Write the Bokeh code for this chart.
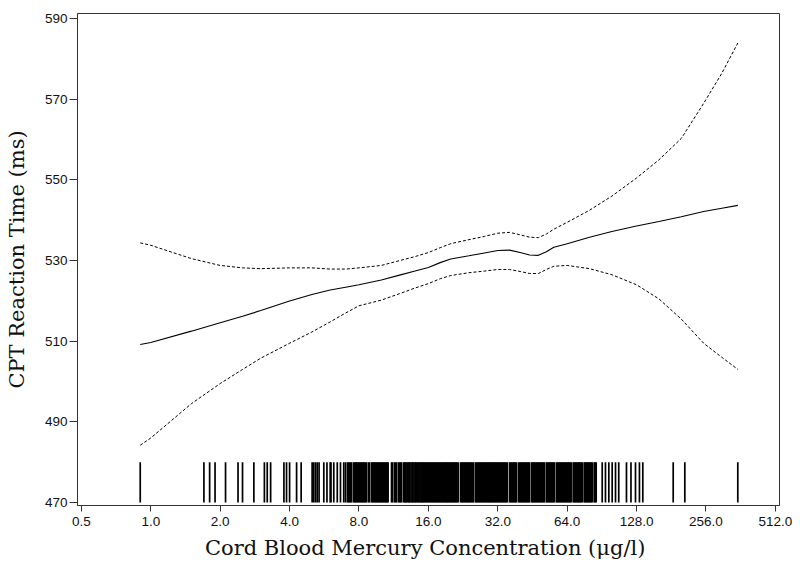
from bokeh.plotting import figure
from bokeh.models import Range1d, FixedTicker, CustomJSTickFormatter
from bokeh.embed import file_html
from bokeh.resources import INLINE

# ---- data ----
x_ticks = [0.5, 1, 2, 4, 8, 16, 32, 64, 128, 256, 512]
x_tick_labels = ["0.5", "1.0", "2.0", "4.0", "8.0", "16.0", "32.0", "64.0", "128.0", "256.0", "512.0"]
y_ticks = [470, 490, 510, 530, 550, 570, 590]

curve_x = [0.9, 1.0, 1.5, 2.0, 2.5, 3.0, 4.0, 5.0, 6.0, 7.0, 8.0, 10, 12, 14, 16, 18, 20, 24, 28,
           32, 36, 40, 44, 48, 52, 56, 64, 80, 100, 128, 160, 200, 250, 300, 352]
fit_y = [509.2, 509.7, 512.5, 514.6, 516.2, 517.6, 520.0, 521.6, 522.7, 523.4, 524.0, 525.2, 526.4,
         527.4, 528.3, 529.5, 530.4, 531.2, 531.9, 532.5, 532.6, 532.0, 531.4, 531.3, 532.2, 533.3,
         534.2, 535.8, 537.2, 538.6, 539.7, 540.9, 542.2, 543.0, 543.7]
upper_y = [534.4, 533.8, 530.5, 528.8, 528.2, 528.0, 528.2, 528.2, 527.9, 527.9, 528.2, 528.8, 530.0,
           531.0, 532.0, 533.2, 534.2, 535.2, 536.0, 536.8, 537.0, 536.4, 535.8, 535.7, 536.6, 537.8,
           539.5, 542.5, 546.0, 550.5, 555.0, 560.3, 569.0, 576.5, 584.0]
lower_y = [484.2, 486.0, 494.5, 499.5, 503.0, 505.8, 509.5, 512.3, 514.8, 517.0, 518.8, 520.2, 521.8,
           523.2, 524.3, 525.5, 526.3, 527.0, 527.4, 527.8, 527.8, 527.3, 526.8, 526.8, 527.8, 528.6,
           528.8, 528.0, 526.5, 524.0, 520.5, 515.5, 509.5, 506.0, 503.0]

rug_x = [
    0.90, 1.70, 1.80, 1.90, 2.11, 2.39, 2.50, 2.80, 3.11, 3.20, 3.31, 3.78, 3.88, 4.00, 4.29, 4.49,
    5.01, 5.09, 5.18, 5.27, 5.37, 5.63, 5.81, 6.00, 6.05, 6.22, 6.44, 6.65, 6.87, 6.99,
    7.13, 7.20, 7.27, 7.35, 7.42, 7.57, 7.65, 7.73, 7.80, 7.88, 7.96, 8.04, 8.12, 8.20, 8.28, 8.37,
    8.45, 8.53, 8.62, 8.79, 8.88, 9.06, 9.15, 9.24, 9.33, 9.43, 9.52, 9.62, 9.71, 9.81, 9.91, 10.0,
    10.1, 10.2, 10.3, 10.4, 10.5, 10.6, 10.7, 11.07, 11.18, 11.40, 11.52, 11.63, 11.86, 11.98, 12.10,
    12.22, 12.47, 12.59,
    12.7, 12.8, 12.95, 13.1, 13.2, 13.3, 13.45, 13.6, 13.7, 13.85, 14.0, 14.1, 14.25, 14.4, 14.55,
    14.7, 14.85, 15.0, 15.1, 15.25, 15.4, 15.55, 15.7, 15.9, 16.0, 16.2, 16.35, 16.5, 16.7, 16.85,
    17.0, 17.2, 17.35, 17.5, 17.7, 17.85, 18.05, 18.2, 18.4, 18.6, 18.75, 18.95, 19.15, 19.3, 19.5,
    19.7, 19.9, 20.1, 20.3, 20.5, 20.7, 20.9, 21.1, 21.3, 21.55,
    22.05, 22.3, 22.5, 22.7, 22.95, 23.2, 23.4, 23.65, 23.9, 24.1, 24.35, 24.6, 24.85, 25.1, 25.6,
    25.85, 26.1, 26.4, 26.65, 26.9, 27.2, 27.45, 27.7, 28.0, 28.3, 28.55, 28.85, 29.15, 29.4, 29.7,
    30.0, 30.3, 30.6, 30.9, 31.2, 31.55, 31.85, 32.15, 32.5, 32.8, 33.15, 33.5, 33.8, 34.15, 34.5,
    34.85, 35.2,
    36.0, 36.35, 36.7, 37.1, 37.45, 37.85, 38.2, 38.6, 39.4, 39.8, 40.2, 40.6, 41.0, 41.4, 41.8,
    42.2, 42.65, 43.05, 43.5, 43.9, 44.8, 45.25, 45.7, 46.15, 46.6, 47.1, 47.55, 48.0, 48.5, 49.0,
    49.5, 50.0, 50.5, 51.0, 52.0, 52.5, 53.05, 53.6, 54.1, 54.65, 55.2, 55.75, 56.3, 57.45, 58.0,
    58.6, 59.2, 59.8, 60.4, 61.0, 61.6, 62.2, 62.8, 63.45, 64.1, 64.7, 65.35, 66.0, 66.7, 68.0,
    68.7, 69.4, 70.1, 70.8, 71.5, 72.2, 72.9, 73.65, 74.4, 75.85, 76.6, 77.4, 78.2, 78.95, 79.75,
    80.55, 81.35, 82.2, 83.8, 84.65, 85.5,
    90.8, 93.8, 97.0, 100.3, 103.7, 107.1, 115.7, 121.0, 126.6, 131.7, 136.2, 184.5, 207.2, 351.7,
]

# ---- figure ----
p = figure(width=792, height=567, x_axis_type="log",
           x_range=Range1d(0.481, 533.4), y_range=Range1d(469.25, 591.3),
           output_backend="svg", toolbar_location=None,
           min_border_left=77, min_border_right=13, min_border_top=13, min_border_bottom=62)

p.background_fill_color = "white"
p.border_fill_color = "white"
p.outline_line_color = "#333333"
p.outline_line_width = 1
p.xgrid.grid_line_color = None
p.ygrid.grid_line_color = None

p.segment(x0=rug_x, x1=rug_x, y0=470, y1=480, line_color="black", line_width=1.7)
p.line(curve_x, fit_y, line_color="black", line_width=1.1)
p.line(curve_x, upper_y, line_color="black", line_width=1, line_dash="3 2")
p.line(curve_x, lower_y, line_color="black", line_width=1, line_dash="3 2")

p.xaxis.ticker = FixedTicker(ticks=x_ticks)
p.xaxis.formatter = CustomJSTickFormatter(
    args=dict(tick_vals=x_ticks, tick_texts=x_tick_labels),
    code="const i = tick_vals.findIndex(t => Math.abs(t - tick) < 1e-9); return i >= 0 ? tick_texts[i] : tick.toFixed(1);")
p.yaxis.ticker = FixedTicker(ticks=y_ticks)

for ax in (p.xaxis[0], p.yaxis[0]):
    ax.minor_tick_line_color = None
    ax.major_tick_in = 0
    ax.axis_line_color = "#333333"
    ax.major_tick_line_color = "#333333"
    ax.major_label_text_font = "Liberation Sans"
    ax.major_label_text_font_size = "13.5px"
    ax.major_label_text_color = "#111111"
    ax.axis_label_text_font = "DejaVu Serif"
    ax.axis_label_text_font_style = "normal"
    ax.axis_label_text_font_size = "21px"
    ax.axis_label_text_color = "#111111"

p.xaxis.major_tick_out = 6
p.xaxis.major_label_standoff = 5
p.xaxis.axis_label = "Cord Blood  Mercury Concentration (\u03bcg/l)"
p.xaxis.axis_label_standoff = 7

p.yaxis.major_tick_out = 8
p.yaxis.major_label_standoff = 2
p.yaxis.axis_label = "CPT Reaction Time (ms)"
p.yaxis.axis_label_standoff = 13

open("out.html", "w").write(file_html(p, INLINE))
